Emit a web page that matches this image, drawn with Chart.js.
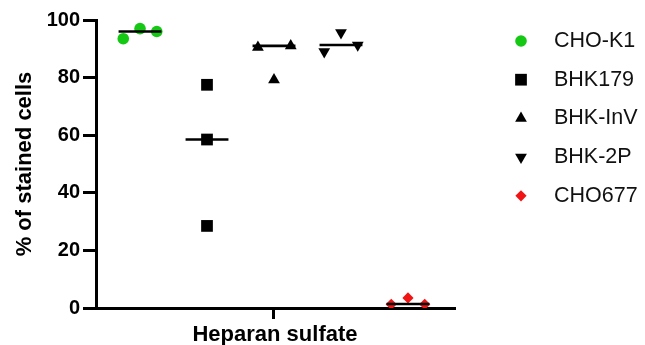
<!DOCTYPE html>
<html>
<head>
<meta charset="utf-8">
<script src="https://cdn.jsdelivr.net/npm/chart.js@4/dist/chart.umd.min.js"></script>
<style>
  html, body { margin: 0; padding: 0; background: #fff; }
  #wrap { width: 645px; height: 345px; }
</style>
</head>
<body>
<div id="wrap"><canvas id="hsChart"></canvas></div>
<script>
"use strict";

// Cell lines (one column each, left to right)
const GROUPS = ["CHO-K1", "BHK179", "BHK-InV", "BHK-2P", "CHO677"];

// % of stained cells, three replicates per line
const CHO_K1  = [93.5, 97, 96];
const BHK179  = [77.5, 58.5, 28.5];
const BHK_INV = [90.5, 79.2, 91];
const BHK_2P  = [89, 95.6, 91.3];
const CHO677  = [1.3, 3.5, 1.3];

// median bars as drawn
const MEDIANS = [96, 58.5, 91, 91.3, 1.4];

// horizontal scatter of the replicates inside each column
const JITTER = [
  [-0.25, 0, 0.25],
  [0, 0, 0],
  [-0.24, 0, 0.25],
  [-0.25, 0, 0.25],
  [-0.25, 0, 0.25]
];

const Y_TICKS = [0, 20, 40, 60, 80, 100];
const X_LABEL = "Heparan sulfate";
const Y_LABEL = "% of stained cells";

// marker look per line
const MARKERS = [
  { style: "circle",   radius: 5.8, rotation: 0,   color: "#14c814" },
  { style: "rect",     radius: 8.3, rotation: 0,   color: "#000000" },
  { style: "triangle", radius: 6.8, rotation: 0,   color: "#000000" },
  { style: "triangle", radius: 6.8, rotation: 180, color: "#000000" },
  { style: "rectRot",  radius: 5.6, rotation: 0,   color: "#f01414" }
];

const ALL_VALUES = [CHO_K1, BHK179, BHK_INV, BHK_2P, CHO677];
const FONT = "Arial, 'Liberation Sans', sans-serif";
const BAR_HALF = 0.32;

// scatter datasets (markers)
const pointSets = GROUPS.map((g, i) => ({
  type: "scatter",
  label: g,
  showInKey: true,
  data: ALL_VALUES[i].map((v, k) => ({ x: i + JITTER[i][k], y: v })),
  pointStyle: MARKERS[i].style,
  pointRadius: MARKERS[i].radius,
  pointRotation: MARKERS[i].rotation,
  backgroundColor: MARKERS[i].color,
  borderWidth: 0,
  order: 2
}));

// median bars
const medianSets = GROUPS.map((g, i) => ({
  type: "line",
  label: g + " median",
  data: [{ x: i - BAR_HALF, y: MEDIANS[i] }, { x: i + BAR_HALF, y: MEDIANS[i] }],
  borderColor: "#000",
  borderWidth: 2.6,
  pointRadius: 0,
  fill: false,
  order: 1
}));

// legend drawn at the right, one row per cell line
const sideLegend = {
  id: "sideLegend",
  afterDraw(chart) {
    const ctx = chart.ctx;
    const items = chart.data.datasets.filter(d => d.showInKey);
    ctx.save();
    items.forEach((d, i) => {
      const y = 41 + i * 38.7;
      ctx.fillStyle = d.backgroundColor;
      Chart.helpers.drawPoint(ctx, {
        pointStyle: d.pointStyle,
        radius: d.pointRadius,
        rotation: d.pointRotation || 0,
        borderWidth: 0
      }, 521, y);
      ctx.fillStyle = "#111";
      ctx.font = "21.5px " + FONT;
      ctx.textBaseline = "middle";
      ctx.textAlign = "left";
      ctx.fillText(d.label, 554, y);
    });
    ctx.restore();
  }
};

new Chart(document.getElementById("hsChart").getContext("2d"), {
  type: "scatter",
  data: { datasets: [...medianSets, ...pointSets] },
  plugins: [sideLegend],
  options: {
    responsive: true,
    maintainAspectRatio: false,
    animation: false,
    events: [],
    layout: { padding: { top: 20, right: 191, bottom: 0, left: 0 } },
    plugins: {
      legend: { display: false },
      tooltip: { enabled: false }
    },
    elements: { point: { hoverRadius: 0 } },
    scales: {
      x: {
        type: "linear",
        min: -0.657,
        max: 4.687,
        afterBuildTicks: scale => { scale.ticks = [{ value: 2 }]; },
        afterFit: scale => { scale.height = 37; },
        ticks: { callback: () => "" },
        grid: {
          display: true,
          drawOnChartArea: false,
          drawTicks: true,
          tickLength: 11,
          lineWidth: 3,
          color: "#000"
        },
        border: { display: true, width: 3, color: "#000" },
        title: {
          display: true,
          text: X_LABEL,
          color: "#000",
          font: { family: FONT, size: 22, weight: "bold" },
          padding: { top: 0, bottom: -3 }
        }
      },
      y: {
        min: 0,
        max: 100,
        afterBuildTicks: scale => { scale.ticks = Y_TICKS.map(v => ({ value: v })); },
        afterFit: scale => { scale.width = 96; },
        ticks: {
          color: "#000",
          padding: 3,
          font: { family: FONT, size: 20, weight: "bold" }
        },
        grid: {
          display: true,
          drawOnChartArea: false,
          drawTicks: true,
          tickLength: 13,
          lineWidth: 3,
          color: "#000"
        },
        border: { display: true, width: 3, color: "#000" },
        title: {
          display: true,
          text: Y_LABEL,
          color: "#000",
          font: { family: FONT, size: 22, weight: "bold" },
          padding: { top: 12, bottom: 0 }
        }
      }
    }
  }
});
</script>
</body>
</html>
